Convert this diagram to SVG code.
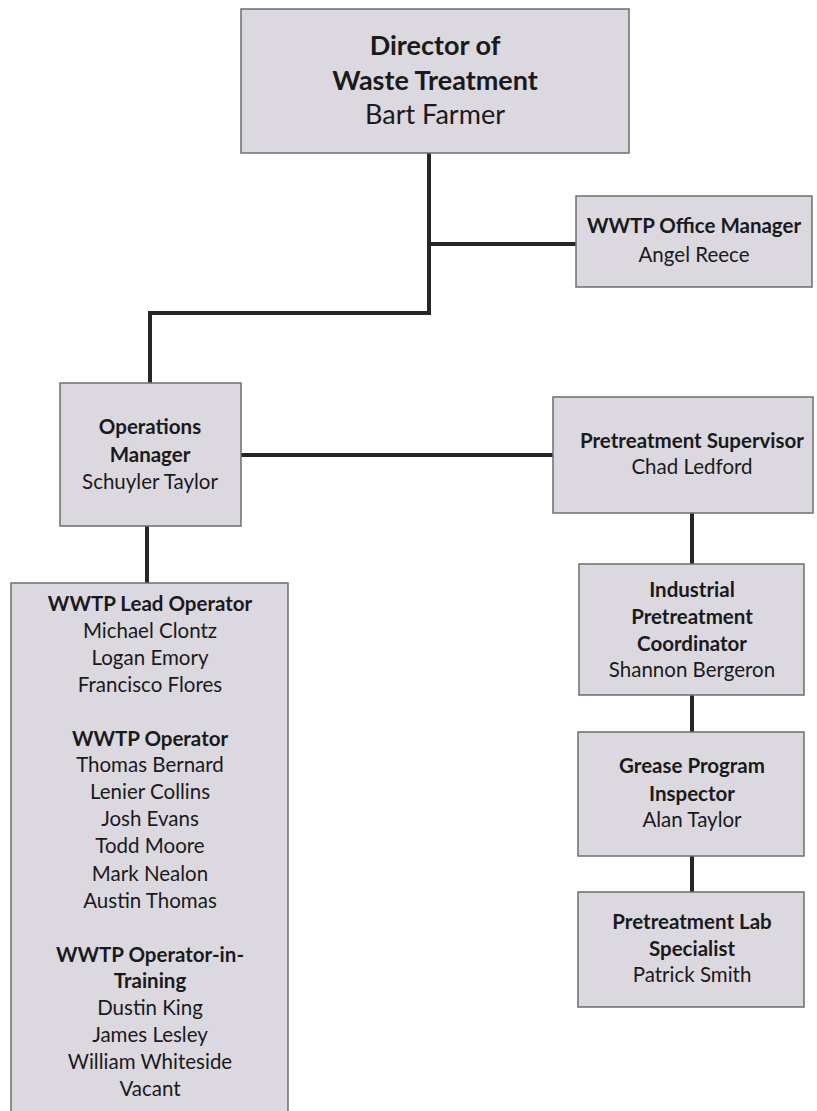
<svg xmlns="http://www.w3.org/2000/svg" width="817" height="1111" viewBox="0 0 817 1111">
<style>
.box{fill:#dcd8e0;stroke:#6e6e6e;stroke-width:1.5}
.t{font-family:Lato,"Liberation Sans",sans-serif;fill:#1a1a1a;text-anchor:middle}
.b{font-weight:bold}
.s{font-size:20.5px}
.L{font-size:27px}
.c{stroke:#262626;stroke-width:4;fill:none}
</style>
<rect width="817" height="1111" fill="#ffffff"/>
<g id="connectors">
<path class="c" d="M429 153 V313 H150 V383"/>
<path class="c" d="M429 244 H576"/>
<path class="c" d="M241 455 H553"/>
<path class="c" d="M147 526 V583"/>
<path class="c" d="M692 513 V564"/>
<path class="c" d="M692 695 V732"/>
<path class="c" d="M692 856 V892"/>
</g>
<g id="director">
<rect class="box" x="241" y="9" width="388" height="144"/>
<text class="t b L" x="435" y="55">Director of</text>
<text class="t b L" x="435" y="90">Waste Treatment</text>
<text class="t L" x="435" y="124">Bart Farmer</text>
</g>
<g id="office-manager">
<rect class="box" x="576" y="196" width="236" height="91"/>
<text class="t b s" x="694" y="233">WWTP Office Manager</text>
<text class="t s" x="694" y="262">Angel Reece</text>
</g>
<g id="operations-manager">
<rect class="box" x="60" y="383" width="181" height="143"/>
<text class="t b s" x="150" y="434">Operations</text>
<text class="t b s" x="150" y="462">Manager</text>
<text class="t s" x="150" y="489">Schuyler Taylor</text>
</g>
<g id="pretreatment-supervisor">
<rect class="box" x="553" y="397" width="260" height="116"/>
<text class="t b s" x="692" y="448">Pretreatment Supervisor</text>
<text class="t s" x="692" y="474">Chad Ledford</text>
</g>
<g id="operators">
<rect class="box" x="11" y="583" width="277" height="540"/>
<text class="t b s" x="150" y="611">WWTP Lead Operator</text>
<text class="t s" x="150" y="638">Michael Clontz</text>
<text class="t s" x="150" y="665">Logan Emory</text>
<text class="t s" x="150" y="692">Francisco Flores</text>
<text class="t b s" x="150" y="746">WWTP Operator</text>
<text class="t s" x="150" y="772">Thomas Bernard</text>
<text class="t s" x="150" y="799">Lenier Collins</text>
<text class="t s" x="150" y="826">Josh Evans</text>
<text class="t s" x="150" y="853">Todd Moore</text>
<text class="t s" x="150" y="881">Mark Nealon</text>
<text class="t s" x="150" y="908">Austin Thomas</text>
<text class="t b s" x="150" y="962">WWTP Operator-in-</text>
<text class="t b s" x="150" y="988">Training</text>
<text class="t s" x="150" y="1015">Dustin King</text>
<text class="t s" x="150" y="1042">James Lesley</text>
<text class="t s" x="150" y="1069">William Whiteside</text>
<text class="t s" x="150" y="1096">Vacant</text>
</g>
<g id="industrial-coordinator">
<rect class="box" x="579" y="564" width="225" height="131"/>
<text class="t b s" x="692" y="597">Industrial</text>
<text class="t b s" x="692" y="624">Pretreatment</text>
<text class="t b s" x="692" y="651">Coordinator</text>
<text class="t s" x="692" y="677">Shannon Bergeron</text>
</g>
<g id="grease-inspector">
<rect class="box" x="578" y="732" width="226" height="124"/>
<text class="t b s" x="692" y="773">Grease Program</text>
<text class="t b s" x="692" y="801">Inspector</text>
<text class="t s" x="692" y="827">Alan Taylor</text>
</g>
<g id="lab-specialist">
<rect class="box" x="578" y="892" width="226" height="115"/>
<text class="t b s" x="692" y="929">Pretreatment Lab</text>
<text class="t b s" x="692" y="956">Specialist</text>
<text class="t s" x="692" y="982">Patrick Smith</text>
</g>
</svg>
